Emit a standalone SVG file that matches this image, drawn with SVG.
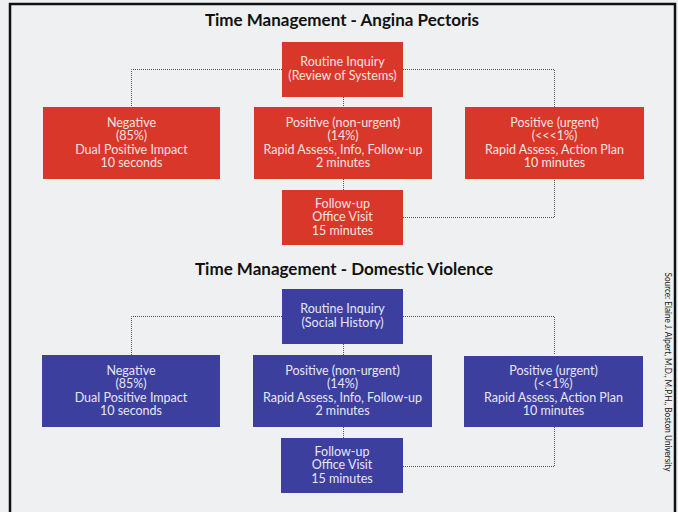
<svg xmlns="http://www.w3.org/2000/svg" width="678" height="512" viewBox="0 0 678 512">
<style>
.title{font-family:Lato,"Open Sans",sans-serif;font-weight:bold;font-size:17px;fill:#111;text-anchor:middle}
.lbl{font-family:Lato,"Open Sans",sans-serif;font-size:12.5px;fill:#f6e4e0;text-anchor:middle}
.lblb{font-family:Lato,"Open Sans",sans-serif;font-size:12.5px;fill:#e6e6f4;text-anchor:middle}
.red{fill:#d9372a}
.blue{fill:#3d3f9e}
.conn{fill:none;stroke:#555;stroke-width:1;stroke-dasharray:1 1}
.src{font-family:Lato,"Open Sans",sans-serif;font-size:9.5px;fill:#222;text-anchor:middle}
</style>
<rect x="0" y="0" width="678" height="512" fill="#eef0f2"/>
<path d="M10 512 V4 H675 V512" fill="none" stroke="#111" stroke-width="2.5"/>
<text class="title" x="342" y="26">Time Management - Angina Pectoris</text>
<text class="title" x="344" y="275">Time Management - Domestic Violence</text>
<g id="connectors">
<path class="conn" d="M282 69.5 H131.5 V107"/>
<path class="conn" d="M403 69.5 H554.5 V107"/>
<path class="conn" d="M343.5 97 V107"/>
<path class="conn" d="M343.5 179 V190"/>
<path class="conn" d="M403 217.5 H554.5 V179"/>
<path class="conn" d="M282 316.5 H131.5 V355"/>
<path class="conn" d="M403 316.5 H554.5 V355"/>
<path class="conn" d="M343.5 344 V355"/>
<path class="conn" d="M343.5 427 V438"/>
<path class="conn" d="M403 466.5 H554.5 V427"/>
</g>
<g id="a-inquiry"><rect class="red" x="282" y="42" width="121" height="55"/>
<text class="lbl" x="342.5" y="66">Routine Inquiry</text><text class="lbl" x="342.5" y="79.5">(Review of Systems)</text></g>
<g id="a-negative"><rect class="red" x="43" y="107" width="177" height="72"/>
<text class="lbl" x="131.5" y="126.5">Negative</text><text class="lbl" x="131.5" y="140">(85%)</text><text class="lbl" x="131.5" y="153.5">Dual Positive Impact</text><text class="lbl" x="131.5" y="167">10 seconds</text></g>
<g id="a-nonurgent"><rect class="red" x="254" y="107" width="178" height="72"/>
<text class="lbl" x="343" y="126.5">Positive (non-urgent)</text><text class="lbl" x="343" y="140">(14%)</text><text class="lbl" x="343" y="153.5">Rapid Assess, Info, Follow-up</text><text class="lbl" x="343" y="167">2 minutes</text></g>
<g id="a-urgent"><rect class="red" x="465" y="107" width="179" height="72"/>
<text class="lbl" x="554.5" y="126.5">Positive (urgent)</text><text class="lbl" x="554.5" y="140">(&lt;&lt;&lt;1%)</text><text class="lbl" x="554.5" y="153.5">Rapid Assess, Action Plan</text><text class="lbl" x="554.5" y="167">10 minutes</text></g>
<g id="a-followup"><rect class="red" x="282" y="190" width="121" height="55"/>
<text class="lbl" x="342.5" y="207.5">Follow-up</text><text class="lbl" x="342.5" y="221">Office Visit</text><text class="lbl" x="342.5" y="234.5">15 minutes</text></g>
<g id="d-inquiry"><rect class="blue" x="282" y="289" width="121" height="55"/>
<text class="lblb" x="342.5" y="313">Routine Inquiry</text><text class="lblb" x="342.5" y="326.5">(Social History)</text></g>
<g id="d-negative"><rect class="blue" x="42" y="355" width="178" height="72"/>
<text class="lblb" x="131" y="374.5">Negative</text><text class="lblb" x="131" y="388">(85%)</text><text class="lblb" x="131" y="401.5">Dual Positive Impact</text><text class="lblb" x="131" y="415">10 seconds</text></g>
<g id="d-nonurgent"><rect class="blue" x="253" y="355" width="179" height="72"/>
<text class="lblb" x="342.5" y="374.5">Positive (non-urgent)</text><text class="lblb" x="342.5" y="388">(14%)</text><text class="lblb" x="342.5" y="401.5">Rapid Assess, Info, Follow-up</text><text class="lblb" x="342.5" y="415">2 minutes</text></g>
<g id="d-urgent"><rect class="blue" x="464" y="356" width="179" height="71"/>
<text class="lblb" x="553.5" y="374.5">Positive (urgent)</text><text class="lblb" x="553.5" y="388">(&lt;&lt;1%)</text><text class="lblb" x="553.5" y="401.5">Rapid Assess, Action Plan</text><text class="lblb" x="553.5" y="415">10 minutes</text></g>
<g id="d-followup"><rect class="blue" x="281" y="438" width="122" height="55"/>
<text class="lblb" x="342" y="455.5">Follow-up</text><text class="lblb" x="342" y="469">Office Visit</text><text class="lblb" x="342" y="482.5">15 minutes</text></g>
<text class="src" transform="translate(665 372) rotate(90)" textLength="199" lengthAdjust="spacingAndGlyphs">Source: Elaine J. Alpert, M.D., M.P.H., Boston University</text>
</svg>
